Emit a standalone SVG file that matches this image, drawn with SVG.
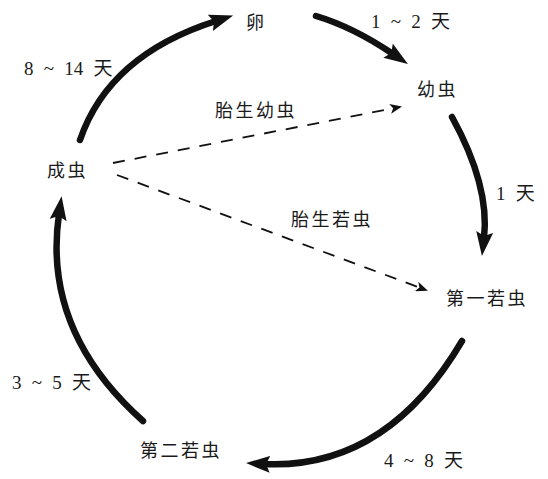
<svg xmlns="http://www.w3.org/2000/svg" width="548" height="479" viewBox="0 0 548 479">
<style>
.t{font-family:"Noto Sans CJK SC","Liberation Serif",serif;font-size:18px;fill:#1a1a1a;letter-spacing:2.5px}
.n{font-family:"Liberation Serif","Noto Sans CJK SC",serif;font-size:19px;fill:#1a1a1a;word-spacing:5.5px}
.thick{fill:none;stroke:#111;stroke-width:6.5;stroke-linecap:round;marker-end:url(#big)}
.dash{fill:none;stroke:#111;stroke-width:1.8;stroke-dasharray:12 10;marker-end:url(#small)}
</style>
<defs>
<marker id="big" markerUnits="userSpaceOnUse" viewBox="0 0 24 17" refX="6" refY="8.5" markerWidth="24" markerHeight="17" orient="auto">
<path d="M0,0 L24,8.5 L0,17 L4,8.5 z" fill="#111"/>
</marker>
<marker id="small" markerUnits="userSpaceOnUse" viewBox="0 0 12 10" refX="10" refY="5" markerWidth="12" markerHeight="10" orient="auto">
<path d="M0,0 L12,5 L0,10 L3,5 z" fill="#111"/>
</marker>
</defs>
<rect width="548" height="479" fill="#fff"/>
<g id="connectors">
<path class="thick" d="M80,140 Q109,55 216,21"/>
<path class="thick" d="M316,16 Q353,27 393,54"/>
<path class="thick" d="M452,117 Q490,186 484,238"/>
<path class="thick" d="M462,341 Q386,470 264,464"/>
<path class="thick" d="M143,421 Q42,331 59,214"/>
<path class="dash" d="M113,163 L400,107"/>
<path class="dash" d="M117,175 L426,290"/>
</g>
<g id="egg"><text class="t" x="246" y="29">卵</text></g>
<g id="larva"><text class="t" x="417" y="96">幼虫</text></g>
<g id="nymph1"><text class="t" x="446" y="305">第一若虫</text></g>
<g id="nymph2"><text class="t" x="140" y="457">第二若虫</text></g>
<g id="adult"><text class="t" x="47" y="177">成虫</text></g>
<g id="labels">
<text class="n" x="371" y="28">1 ~ 2 天</text>
<text class="n" x="24" y="75">8 ~ 14 天</text>
<text class="n" x="496" y="200">1 天</text>
<text class="n" x="12" y="389">3 ~ 5 天</text>
<text class="n" x="384" y="467">4 ~ 8 天</text>
<text class="t" x="215" y="117">胎生幼虫</text>
<text class="t" x="291" y="226">胎生若虫</text>
</g>
</svg>
